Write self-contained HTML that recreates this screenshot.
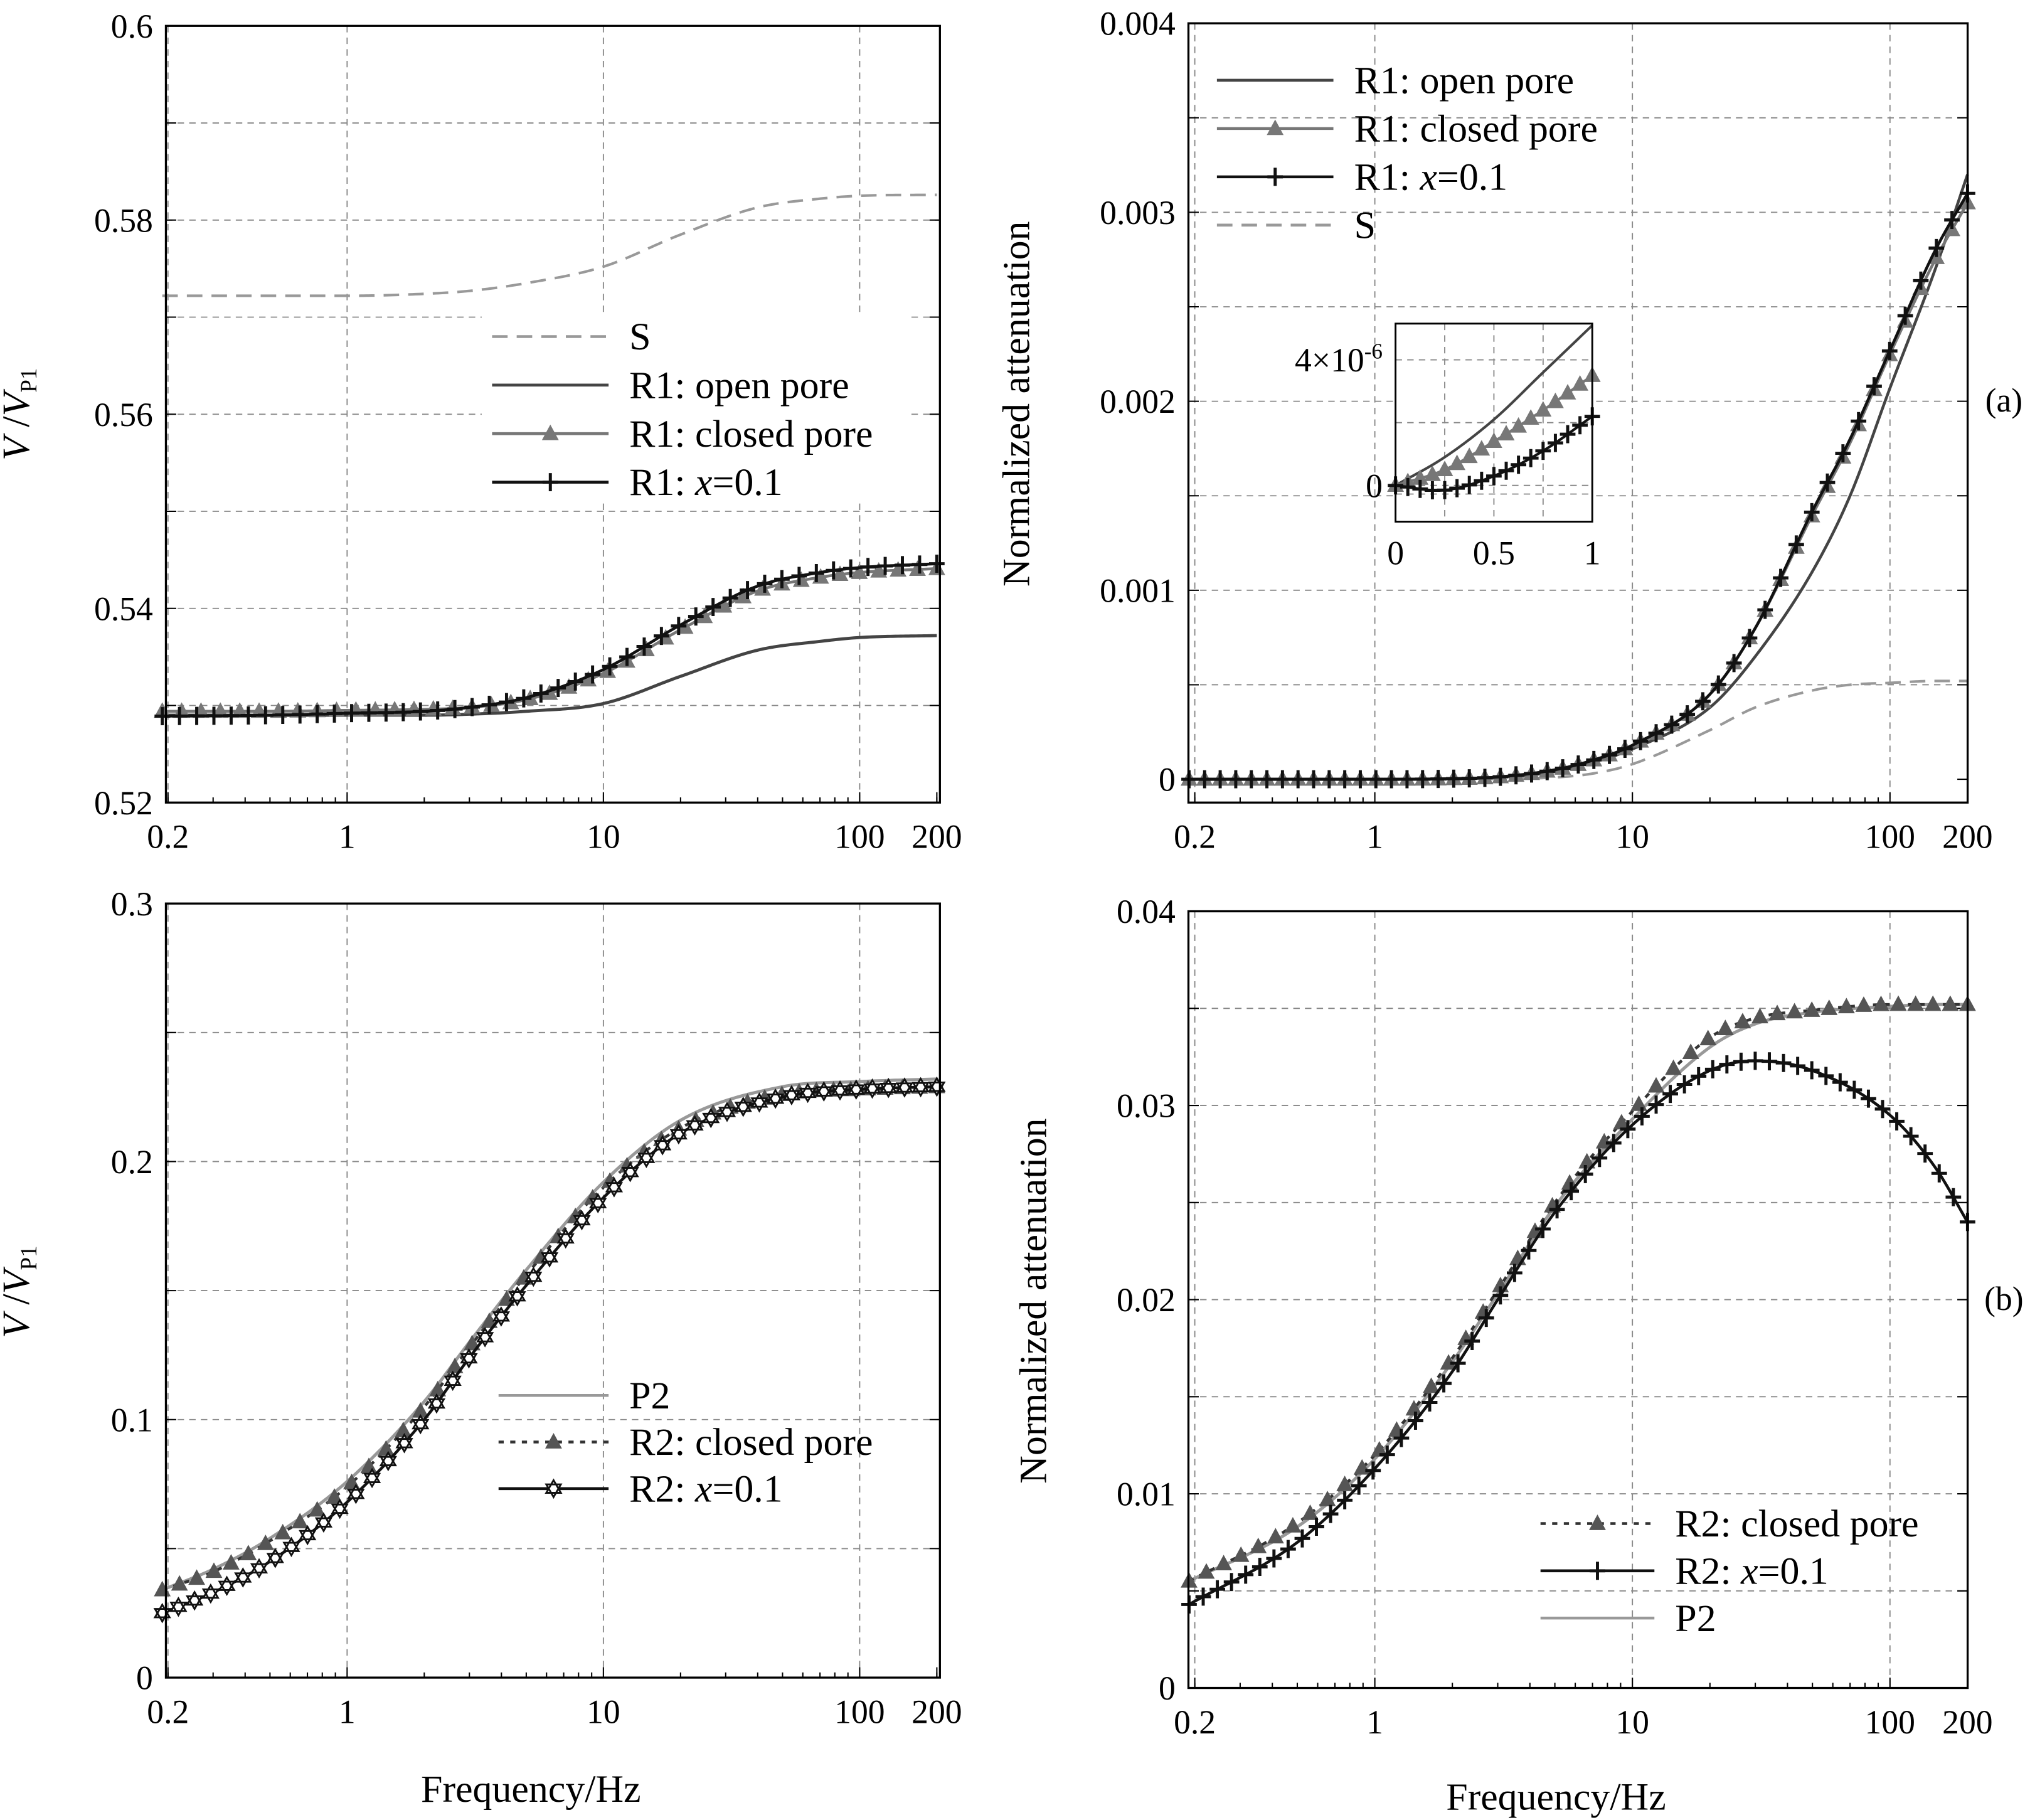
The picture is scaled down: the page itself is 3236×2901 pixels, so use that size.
<!DOCTYPE html>
<html><head><meta charset="utf-8">
<style>
html,body{margin:0;padding:0;background:#fff;}
svg{display:block;font-family:"Liberation Serif",serif;}
</style></head>
<body>
<svg id="fig" width="3236" height="2901" viewBox="0 0 1568 1406" xmlns="http://www.w3.org/2000/svg"></svg>
<script>
// ---------- data ----------
const tlFreq = [0.19,0.5,1,2,3,5,10,20,40,70,100,200];
const tlS = [0.5722,0.5722,0.5722,0.5724,0.5727,0.5735,0.5752,0.5785,0.5813,0.5822,0.5825,0.5826];
const tlOpen = [0.5290,0.5290,0.5290,0.5290,0.5291,0.5294,0.5302,0.5330,0.5357,0.5366,0.5370,0.5372];
const tlClosed = [0.5294,0.5294,0.5295,0.5296,0.5298,0.5306,0.5333,0.5378,0.5418,0.5432,0.5437,0.5441];
const tlX = [0.5289,0.5290,0.5292,0.5294,0.5298,0.5308,0.5337,0.5383,0.5423,0.5437,0.5442,0.5446];

const trFreq = [0.19,1,2,3,5,7,10,20,30,50,70,100,150,200];
const trOpen = [0,0,0.000002,0.00001,0.00004,0.00009,0.00016,0.00038,0.00065,0.0011,0.0015,0.00207,0.0027,0.0032];
const trClosed = [0,0,0.000003,0.000012,0.00005,0.0001,0.00018,0.00045,0.0008,0.0014,0.00178,0.00225,0.00275,0.00305];
const trX = [0,0,0.000003,0.000012,0.00005,0.0001,0.00018,0.00045,0.0008,0.00142,0.0018,0.00227,0.0028,0.0031];
const trS = [0,0,0,0.000002,0.00001,0.00003,0.00008,0.00026,0.00038,0.00047,0.0005,0.00051,0.00052,0.00052];

const inX = [0,0.25,0.5,0.75,1];
const inOpen = [0.0e-6,0.9e-6,2.1e-6,3.6e-6,5.1e-6];
const inClosed = [0.0e-6,0.5e-6,1.4e-6,2.4e-6,3.5e-6];
const inXp = [0.0e-6,-0.15e-6,0.3e-6,1.1e-6,2.2e-6];

const blFreq = [0.19,0.3,0.5,1,2,3,5,10,20,50,100,200];
const blP2 = [0.034,0.042,0.054,0.076,0.107,0.130,0.158,0.192,0.216,0.229,0.231,0.232];
const blClosed = [0.034,0.041,0.053,0.074,0.105,0.128,0.156,0.190,0.213,0.226,0.228,0.229];
const blX = [0.025,0.033,0.045,0.068,0.100,0.124,0.152,0.186,0.211,0.225,0.228,0.229];

const brFreq = [0.19,0.5,1,2,3,5,10,20,30,50,100,150,200];
const brClosed = [0.0055,0.0085,0.0120,0.0170,0.0205,0.0250,0.0297,0.0335,0.0345,0.0349,0.0352,0.0352,0.0352];
const brP2 = [0.0055,0.0083,0.0118,0.0168,0.0203,0.0248,0.0293,0.0330,0.0342,0.0348,0.0351,0.0352,0.0352];
const brX = [0.0043,0.0075,0.0113,0.0163,0.0200,0.0245,0.0290,0.0318,0.0323,0.0318,0.0295,0.0268,0.0240];

const xTickVals = [0.2,1,10,100,200];
const xTickLabels = ["0.2","1","10","100","200"];

// ---------- helpers ----------
const NS="http://www.w3.org/2000/svg";
const svg=document.getElementById('fig');
function el(tag,attrs,parent){const e=document.createElementNS(NS,tag);for(const k in attrs)e.setAttribute(k,attrs[k]);(parent||svg).appendChild(e);return e;}
function monotone(xs,ys){const n=xs.length,d=[],m=new Array(n);for(let i=0;i<n-1;i++)d.push((ys[i+1]-ys[i])/(xs[i+1]-xs[i]));m[0]=d[0];m[n-1]=d[n-2];for(let i=1;i<n-1;i++){m[i]=(d[i-1]*d[i]<=0)?0:(d[i-1]+d[i])/2;}
 return function(x){let i=0;while(i<n-2&&x>xs[i+1])i++;const h=xs[i+1]-xs[i],t=(x-xs[i])/h,t2=t*t,t3=t2*t;return (2*t3-3*t2+1)*ys[i]+(t3-2*t2+t)*h*m[i]+(-2*t3+3*t2)*ys[i+1]+(t3-t2)*h*m[i+1];};}
function smooth(xs,ys){const n=xs.length,m=new Array(n);for(let i=0;i<n;i++){if(i==0)m[i]=(ys[1]-ys[0])/(xs[1]-xs[0]);else if(i==n-1)m[i]=(ys[n-1]-ys[n-2])/(xs[n-1]-xs[n-2]);else m[i]=(ys[i+1]-ys[i-1])/(xs[i+1]-xs[i-1]);}
 return function(x){let i=0;while(i<n-2&&x>xs[i+1])i++;const h=xs[i+1]-xs[i],t=(x-xs[i])/h,t2=t*t,t3=t2*t;return (2*t3-3*t2+1)*ys[i]+(t3-2*t2+t)*h*m[i]+(-2*t3+3*t2)*ys[i+1]+(t3-t2)*h*m[i+1];};}

function marker(type,x,y,g){
 let e;
 if(type==='tri'){e=el('polygon',{points:`${x},${y-7} ${x-6.5},${y+5} ${x+6.5},${y+5}`,fill:'#777',stroke:'none'},g);}
 else if(type==='tridark'){e=el('polygon',{points:`${x},${y-7} ${x-6.5},${y+5} ${x+6.5},${y+5}`,fill:'#555',stroke:'none'},g);}
 else if(type==='plus'){e=el('path',{d:`M${x-6},${y}H${x+6}M${x},${y-7}V${y+7}`,stroke:'#111','stroke-width':2.4,fill:'none'},g);}
 else if(type==='star'){const p=[];for(let k=0;k<6;k++){const a=Math.PI/3*k-Math.PI/2;p.push([x+6.5*Math.cos(a),y+6.5*Math.sin(a)]);}
  e=el('path',{d:`M${p[0]}L${p[2]}L${p[4]}ZM${p[1]}L${p[3]}L${p[5]}Z`,stroke:'#111','stroke-width':1.4,fill:'#fff'},g);}
 
 
}

function makePanel(c){
 const g=el('g',{});
 
 
 const X=v=>c.x1+(Math.log10(v)-0)*c.dec;
 const Y=v=>c.yb+(v-c.ymin)/(c.ymax-c.ymin)*(c.yt-c.yb);
 const grid=el('g',{stroke:'#888','stroke-width':0.9,'stroke-dasharray':'5,4'},g);
 
 
 for(const v of [0.2,1,10,100]) el('line',{x1:X(v),x2:X(v),y1:c.top,y2:c.bottom},grid);
 for(let k=1;k<c.nMinor;k++){const v=c.ymin+k*(c.ymax-c.ymin)/c.nMinor; el('line',{x1:c.left,x2:c.right,y1:Y(v),y2:Y(v)},grid);}
 for(let k=0;k<=c.nMinor;k++){const v=c.ymin+k*(c.ymax-c.ymin)/c.nMinor;const major=k%2==0;
  el('line',{x1:c.right,x2:c.right-8,y1:Y(v),y2:Y(v),stroke:'#000','stroke-width':1},g);
  el('line',{x1:c.left,x2:c.left+8,y1:Y(v),y2:Y(v),stroke:'#000','stroke-width':1},g);
  if(major){const t=el('text',{x:c.left-10,y:Y(v)+9,'text-anchor':'end','font-size':26},g);t.textContent=c.yLabels[k/2];
   }}
 xTickVals.forEach((v,i)=>{el('line',{x1:X(v),x2:X(v),y1:c.bottom,y2:c.bottom-8,stroke:'#000'},g);
  const t=el('text',{x:X(v),y:c.bottom+35,'text-anchor':'middle','font-size':26},g);t.textContent=xTickLabels[i];
  });
 for(let d=-1;d<=2;d++)for(let m=2;m<=9;m++){const v=m*Math.pow(10,d);if(v<0.19||v>200)continue;
  el('line',{x1:X(v),x2:X(v),y1:c.bottom,y2:c.bottom-4,stroke:'#000'},g);}
 for(const s of c.series){
  const lx=s.f.map(v=>Math.log10(v));const fn=monotone(lx,s.v);
  const pts=[];const N=300;const a=lx[0],b=lx[lx.length-1];
  for(let i=0;i<=N;i++){const t=a+(b-a)*i/N;pts.push([X(Math.pow(10,t)),Y(fn(t))]);}
  const sg=el('g',{},g);
  
  
  el('polyline',{points:pts.map(p=>p.join(',')).join(' '),fill:'none',stroke:s.color,'stroke-width':s.w||2.2,'stroke-dasharray':s.dash||'none'},sg);
  if(s.mk){const step=(b-a)/(s.nm||45);for(let t=a;t<=b+1e-9;t+=step){marker(s.mk,X(Math.pow(10,t)),Y(fn(t)),sg);}}
 }
 const box=el('rect',{x:c.left,y:c.top,width:c.right-c.left,height:c.bottom-c.top,fill:'none',stroke:'#000','stroke-width':1.6},g);
 
 return g;
}

function legend(items,lx,ly,dy,len,bg){
 const g=el('g',{});
 
 
 if(bg) el('rect',{x:bg[0],y:bg[1],width:bg[2],height:bg[3],fill:'#fff'},g);
 items.forEach((it,i)=>{const y=ly+i*dy;
  const e=el('g',{},g);
  
  
  el('line',{x1:lx,x2:lx+len,y1:y,y2:y,stroke:it.color,'stroke-width':2.2,'stroke-dasharray':it.dash||'none'},e);
  if(it.mk)marker(it.mk,lx+len/2,y,e);
  const t=el('text',{x:lx+len+16,y:y+10,'font-size':30},e);t.innerHTML=it.label;});
}

makePanel({name:'panel-a-velocity',left:128,right:726,top:20,bottom:620,x1:268,dec:198,ymin:0.52,ymax:0.6,yb:620,yt:20,nMinor:8,
 yLabels:["0.52","0.54","0.56","0.58","0.6"],
 series:[
  {name:'series-s',f:tlFreq,v:tlS,color:'#999',dash:'12,7',w:2},
  {name:'series-r1-open-pore',f:tlFreq,v:tlOpen,color:'#444',w:2.4},
  {name:'series-r1-closed-pore',f:tlFreq,v:tlClosed,color:'#777',mk:'tri',nm:40},
  {name:'series-r1-x01',f:tlFreq,v:tlX,color:'#111',mk:'plus',nm:45}
 ]});
legend([{label:'S',color:'#999',dash:'12,7'},{label:'R1: open pore',color:'#444'},{label:'R1: closed pore',color:'#777',mk:'tri'},{label:'R1: <tspan font-style="italic">x</tspan>=0.1',color:'#111',mk:'plus'}],380,260,37.5,90,[372,242,330,145]);

makePanel({name:'panel-a-attenuation',left:918,right:1520,top:18,bottom:620,x1:1062,dec:199,ymin:0,ymax:0.004,yb:602,yt:18,nMinor:8,
 yLabels:["0","0.001","0.002","0.003","0.004"],
 series:[
  {name:'series-s',f:trFreq,v:trS,color:'#999',dash:'12,7',w:2},
  {name:'series-r1-open-pore',f:trFreq,v:trOpen,color:'#444',w:2.2},
  {name:'series-r1-closed-pore',f:trFreq,v:trClosed,color:'#777',mk:'tri',nm:50},
  {name:'series-r1-x01',f:trFreq,v:trX,color:'#111',mk:'plus',nm:50}
 ]});
legend([{label:'R1: open pore',color:'#444'},{label:'R1: closed pore',color:'#777',mk:'tri'},{label:'R1: <tspan font-style="italic">x</tspan>=0.1',color:'#111',mk:'plus'},{label:'S',color:'#999',dash:'12,7'}],940,62,37.3,90,null);

(function(){
 const g=el('g',{});
 
 
 const L=1078,R=1230,T=250,B=403;
 const X=v=>L+v*(R-L), Y=v=>375-v/4e-6*97;
 el('rect',{x:L,y:T,width:R-L,height:B-T,fill:'#fff'},g);
 const gr=el('g',{stroke:'#888','stroke-width':0.9,'stroke-dasharray':'5,4'},g);
 for(const v of [0.25,0.5,0.75]) el('line',{x1:X(v),x2:X(v),y1:T,y2:B},gr);
 for(const v of [-0.25e-6*1.1,2e-6,4e-6]) el('line',{x1:L,x2:R,y1:Y(v),y2:Y(v)},gr);
 el('line',{x1:L,x2:R,y1:Y(0),y2:Y(0),stroke:'#888','stroke-dasharray':'5,4'},g);
 const ser=[[inOpen,'#444',null],[inClosed,'#777','tri'],[inXp,'#111','plus']];
 const nm=['inset-open-pore','inset-closed-pore','inset-x01'];
 ser.forEach((s,k)=>{const fn=smooth(inX,s[0]);const pts=[];for(let i=0;i<=100;i++){const t=i/100;pts.push([X(t),Y(fn(t))]);}
  const sg=el('g',{},g);
  
  
  el('polyline',{points:pts.map(p=>p.join(',')).join(' '),fill:'none',stroke:s[1],'stroke-width':2},sg);
  if(s[2])for(let i=0;i<=16;i++){const t=i/16;marker(s[2],X(t),Y(fn(t)),sg);} });
 el('rect',{x:L,y:T,width:R-L,height:B-T,fill:'none',stroke:'#000','stroke-width':1.4},g);
 [[0,'0'],[0.5,'0.5'],[1,'1']].forEach(a=>{const t=el('text',{x:X(a[0]),y:B+33,'text-anchor':'middle','font-size':26},g);t.textContent=a[1];});
 let t=el('text',{x:L-10,y:Y(0)+9,'text-anchor':'end','font-size':26},g);t.textContent='0';
 t=el('text',{x:L-10,y:Y(4e-6)+9,'text-anchor':'end','font-size':26},g);t.innerHTML='4×10<tspan dy="-10" font-size="17">-6</tspan>';
})();

makePanel({name:'panel-b-velocity',left:128,right:726,top:698,bottom:1296,x1:268,dec:198,ymin:0,ymax:0.3,yb:1296,yt:698,nMinor:6,
 yLabels:["0","0.1","0.2","0.3"],
 series:[
  {name:'series-p2',f:blFreq,v:blP2,color:'#999',w:2.4},
  {name:'series-r2-closed-pore',f:blFreq,v:blClosed,color:'#333',dash:'4,5',mk:'tridark',nm:45},
  {name:'series-r2-x01',f:blFreq,v:blX,color:'#111',mk:'star',nm:48}
 ]});
legend([{label:'P2',color:'#999'},{label:'R2: closed pore',color:'#333',dash:'4,5',mk:'tridark'},{label:'R2: <tspan font-style="italic">x</tspan>=0.1',color:'#111',mk:'star'}],385,1078,36,85,null);

makePanel({name:'panel-b-attenuation',left:918,right:1520,top:704,bottom:1304,x1:1062,dec:199,ymin:0,ymax:0.04,yb:1304,yt:704,nMinor:8,
 yLabels:["0","0.01","0.02","0.03","0.04"],
 series:[
  {name:'series-p2',f:brFreq,v:brP2,color:'#999',w:2.4},
  {name:'series-r2-closed-pore',f:brFreq,v:brClosed,color:'#333',dash:'4,5',mk:'tridark',nm:45},
  {name:'series-r2-x01',f:brFreq,v:brX,color:'#111',mk:'plus',nm:55}
 ]});
legend([{label:'R2: closed pore',color:'#333',dash:'4,5',mk:'tridark'},{label:'R2: <tspan font-style="italic">x</tspan>=0.1',color:'#111',mk:'plus'},{label:'P2',color:'#999'}],1190,1177,36.5,88,null);

function txt(x,y,html,size,rot,name){const t=el('text',{x:x,y:y,'font-size':size,'text-anchor':'middle'});if(rot)t.setAttribute('transform',`rotate(-90 ${x} ${y})`);t.innerHTML=html;
 }
txt(22,320,'<tspan font-style="italic">V</tspan> /<tspan font-style="italic">V</tspan><tspan font-size="18" dy="6">P1</tspan>',30,true,'y-axis-title');
txt(22,998,'<tspan font-style="italic">V</tspan> /<tspan font-style="italic">V</tspan><tspan font-size="18" dy="6">P1</tspan>',30,true,'y-axis-title');
txt(795,312,'Normalized attenuation',30,true,'y-axis-title');
txt(808,1005,'Normalized attenuation',30,true,'y-axis-title');
txt(410,1392,'Frequency/Hz',30,false,'x-axis-title');
txt(1202,1398,'Frequency/Hz',30,false,'x-axis-title');
txt(1548,318,'(a)',26,false,'panel-label-a');
txt(1548,1012,'(b)',26,false,'panel-label-b');
</script>
</body></html>
